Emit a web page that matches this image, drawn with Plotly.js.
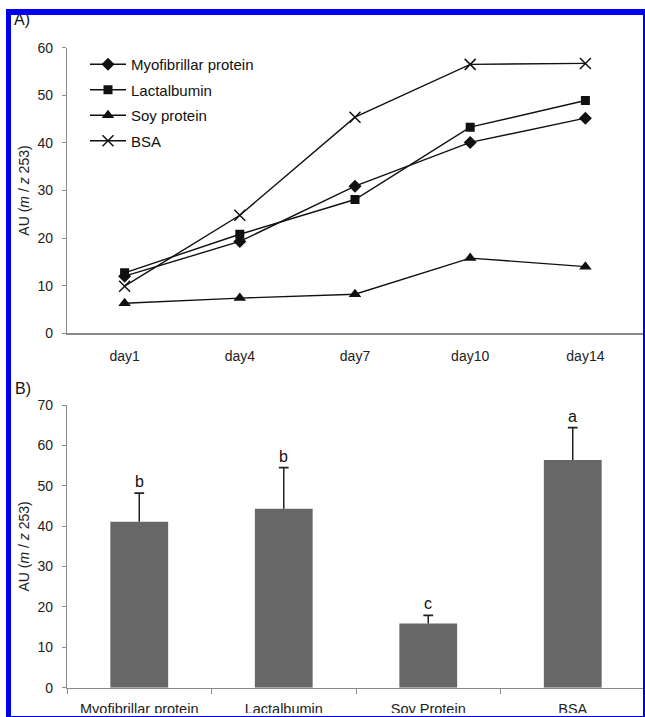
<!DOCTYPE html>
<html>
<head>
<meta charset="utf-8">
<script src="https://cdn.plot.ly/plotly-3.0.1.min.js"></script>
<style>
  html, body { margin: 0; padding: 0; background: #fff; }
  #wrap { position: relative; width: 645px; height: 717px; overflow: hidden; }
  #chart { width: 645px; height: 717px; }
  #frame { position: absolute; left: 6px; top: 9px; width: 632px; height: 701px;
           border-left: 5px solid #0000f0; border-top: 6px solid #0000f0;
           border-right: 2px solid #0000f0; border-bottom: 3px solid #0000f0;
           pointer-events: none; }
  #below { position: absolute; left: 0; top: 713px; width: 645px; height: 4px; background: #fff; }
</style>
</head>
<body>
<div id="wrap">
  <div id="chart"></div>
  <div id="below"></div>
  <div id="frame"></div>
</div>
<script>
// ---- Panel A: time course ----
const days = ["day1", "day4", "day7", "day10", "day14"];
const myofibrillar = [12.0, 19.3, 30.9, 40.1, 45.2];
const lactalbumin  = [12.7, 20.8, 28.1, 43.3, 48.9];
const soyProtein   = [6.3, 7.4, 8.2, 15.8, 14.0];
const bsa          = [9.9, 24.8, 45.4, 56.5, 56.7];
const seriesNames  = ["Myofibrillar protein", "Lactalbumin", "Soy protein", "BSA"];

// ---- Panel B: day 14 comparison ----
const proteins   = ["Myofibrillar protein", "Lactalbumin", "Soy Protein", "BSA"];
const barValues  = [41.1, 44.3, 15.9, 56.4];
const barErrors  = [7.1, 10.2, 2.0, 8.0];
const sigLetters = ["b", "b", "c", "a"];

const lineColor = "#111111";
const axisGray = "#8a8a8a";
const errColor = "#222222";
const font = "Liberation Sans, Arial, sans-serif";

const seriesData = [myofibrillar, lactalbumin, soyProtein, bsa];
const symbols = ["diamond", "square", "triangle-up", "x-thin"];
const sizes = [10, 9, 11, 11];

const traces = seriesData.map((vals, i) => ({
  type: "scatter", mode: "lines+markers",
  x: days, y: vals, name: seriesNames[i],
  legendgroup: "g" + i,
  xaxis: "x", yaxis: "y",
  line: { color: lineColor, width: 1.4 },
  marker: { symbol: symbols[i], size: sizes[i], color: lineColor,
            line: { color: lineColor, width: symbols[i] === "x-thin" ? 1.5 : 0 } }
}));

traces.push({
  type: "bar", x: proteins, y: barValues, xaxis: "x2", yaxis: "y2",
  showlegend: false, width: 0.4,
  marker: { color: "#676767", line: { width: 0 } }
});

// upward-only error bars (stem from bar top, cap at top)
const errX = [], errY = [];
proteins.forEach((p, i) => {
  errX.push(p, p, null);
  errY.push(barValues[i], barValues[i] + barErrors[i], null);
});
traces.push({
  type: "scatter", mode: "lines", x: errX, y: errY, xaxis: "x2", yaxis: "y2",
  showlegend: false, line: { color: errColor, width: 1.5 }
});
traces.push({
  type: "scatter", mode: "markers", x: proteins,
  y: barValues.map((v, i) => v + barErrors[i]), xaxis: "x2", yaxis: "y2",
  showlegend: false,
  marker: { symbol: "line-ew-open", size: 7, color: errColor,
            line: { color: errColor, width: 1.8 } }
});

const annotations = [
  { text: "A)", xref: "paper", yref: "paper", x: 12 / 645, y: 1 - 19 / 717,
    xanchor: "left", yanchor: "middle", showarrow: false,
    font: { family: font, size: 16, color: "#111" } },
  { text: "B)", xref: "paper", yref: "paper", x: 13 / 645, y: 1 - 388 / 717,
    xanchor: "left", yanchor: "middle", showarrow: false,
    font: { family: font, size: 16, color: "#111" } }
];
proteins.forEach((p, i) => {
  annotations.push({
    text: sigLetters[i], xref: "x2", yref: "y2", x: p, y: barValues[i] + barErrors[i],
    xanchor: "center", yanchor: "bottom", showarrow: false, yshift: 1,
    font: { family: font, size: 16, color: "#111" }
  });
});

const tickFont = { family: font, size: 14, color: "#222" };
const yTitle = { text: "AU (<i>m</i> / <i>z</i> 253)", font: { family: font, size: 14, color: "#222" } };

const layout = {
  width: 645, height: 717,
  margin: { l: 0, r: 0, t: 0, b: 0 },
  paper_bgcolor: "#fff", plot_bgcolor: "#fff",
  font: { family: font, color: "#222" },
  showlegend: true,
  legend: { x: 85 / 645, y: 1 - 48 / 717, xanchor: "left", yanchor: "top",
            bgcolor: "rgba(0,0,0,0)", font: { family: font, size: 15, color: "#111" },
            tracegroupgap: 3, itemwidth: 36 },
  xaxis: {
    domain: [67 / 645, 643 / 645], anchor: "y", type: "category",
    range: [-0.5, 4.5], showline: true, linecolor: axisGray, linewidth: 1.2,
    showgrid: false, zeroline: false, ticks: "", tickfont: { family: font, size: 14, color: "#222" },
    ticklabelstandoff: 10
  },
  yaxis: {
    domain: [1 - 333.3 / 717, 1 - 47.7 / 717], anchor: "x",
    range: [0, 60], dtick: 10, showline: true, linecolor: axisGray, linewidth: 1.2,
    showgrid: false, zeroline: false, ticks: "outside", ticklen: 4, tickcolor: axisGray,
    tickfont: tickFont, ticklabelstandoff: 6, title: yTitle
  },
  xaxis2: {
    domain: [67 / 645, 645 / 645], anchor: "y2", type: "category",
    range: [-0.5, 3.5], showline: true, linecolor: axisGray, linewidth: 1.2,
    showgrid: false, zeroline: false, ticks: "outside", tickson: "boundaries",
    ticklen: 5, tickcolor: axisGray,
    tickfont: { family: font, size: 14.5, color: "#222" }, ticklabelstandoff: 8
  },
  yaxis2: {
    domain: [1 - 687.7 / 717, 1 - 405 / 717], anchor: "x2",
    range: [0, 70], dtick: 10, showline: true, linecolor: axisGray, linewidth: 1.2,
    showgrid: false, zeroline: false, ticks: "outside", ticklen: 4, tickcolor: axisGray,
    tickfont: tickFont, ticklabelstandoff: 6, title: yTitle
  },
  annotations: annotations
};

Plotly.newPlot("chart", traces, layout, { displayModeBar: false, staticPlot: true });
</script>
</body>
</html>
